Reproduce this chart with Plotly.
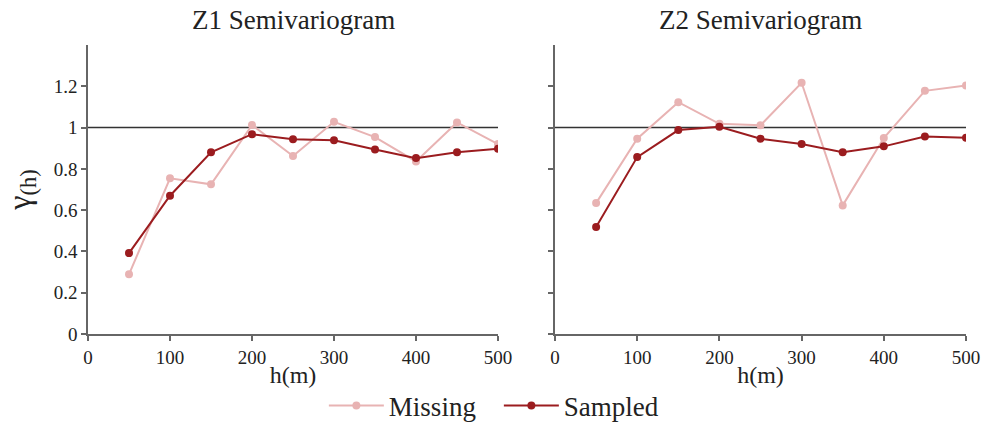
import plotly.graph_objects as go
from plotly.subplots import make_subplots

# Lag distances (m)
lags = [50, 100, 150, 200, 250, 300, 350, 400, 450, 500]

# Experimental semivariogram values for Z1
z1_missing = [0.289, 0.754, 0.725, 1.012, 0.862, 1.028, 0.954, 0.836, 1.025, 0.920]
z1_sampled = [0.392, 0.670, 0.880, 0.968, 0.944, 0.939, 0.894, 0.852, 0.880, 0.897]

# Experimental semivariogram values for Z2
z2_missing = [0.634, 0.946, 1.123, 1.018, 1.011, 1.217, 0.623, 0.949, 1.178, 1.204]
z2_sampled = [0.518, 0.857, 0.988, 1.004, 0.946, 0.920, 0.880, 0.909, 0.957, 0.951]

panel_titles = ["Z1 Semivariogram", "Z2 Semivariogram"]
sill = 1.0

MISSING_COLOR = "#E8B3B3"
SAMPLED_COLOR = "#9B1C1F"
AXIS_COLOR = "#666666"
TEXT_COLOR = "#222222"
FONT = "Times New Roman, Liberation Serif, serif"

fig = make_subplots(rows=1, cols=2, shared_yaxes=False)

for col, (miss, samp) in enumerate([(z1_missing, z1_sampled), (z2_missing, z2_sampled)], start=1):
    fig.add_trace(
        go.Scatter(
            x=lags, y=miss, mode="lines+markers", name="Missing",
            line=dict(color=MISSING_COLOR, width=2),
            marker=dict(color=MISSING_COLOR, size=8),
            showlegend=(col == 1), legendrank=1,
        ),
        row=1, col=col,
    )
    fig.add_trace(
        go.Scatter(
            x=lags, y=samp, mode="lines+markers", name="Sampled",
            line=dict(color=SAMPLED_COLOR, width=2),
            marker=dict(color=SAMPLED_COLOR, size=8),
            showlegend=(col == 1), legendrank=2,
        ),
        row=1, col=col,
    )
    xref = "x" if col == 1 else "x2"
    yref = "y" if col == 1 else "y2"
    fig.add_shape(
        type="line", xref=xref, yref=yref, x0=0, x1=500, y0=sill, y1=sill,
        line=dict(color="#333333", width=1.5), layer="below",
    )

axis_common = dict(
    showline=True, linecolor=AXIS_COLOR, linewidth=1.5,
    ticks="outside", ticklen=5, tickcolor=AXIS_COLOR, tickwidth=1.5,
    showgrid=False, zeroline=False, automargin=False,
    tickfont=dict(family=FONT, size=19, color=TEXT_COLOR),
)

y_dom = [89 / 423, 378 / 423]
fig.update_xaxes(range=[0, 500], tickvals=[0, 100, 200, 300, 400, 500], **axis_common)
fig.update_yaxes(range=[0, 1.40], tickvals=[0, 0.2, 0.4, 0.6, 0.8, 1.0, 1.2], **axis_common)

xtitle = dict(text="h(m)", font=dict(family=FONT, size=24, color=TEXT_COLOR), standoff=0)

fig.update_layout(
    xaxis=dict(domain=[88 / 982, 498 / 982], title=xtitle),
    xaxis2=dict(domain=[555 / 982, 966 / 982], title=xtitle),
    yaxis=dict(domain=y_dom,
               title=dict(text="γ<sub>(h)</sub>", font=dict(family=FONT, size=32, color=TEXT_COLOR), standoff=14)),
    yaxis2=dict(domain=y_dom, showticklabels=False),
    width=982, height=423,
    margin=dict(l=0, r=0, t=0, b=0, autoexpand=False),
    plot_bgcolor="white", paper_bgcolor="white",
    font=dict(family=FONT, color=TEXT_COLOR),
    legend=dict(
        orientation="h", x=0.508, xanchor="center", y=17 / 423, yanchor="middle",
        yref="paper", font=dict(family=FONT, size=27, color=TEXT_COLOR),
        itemwidth=55, entrywidth=105, entrywidthmode="pixels",
        traceorder="normal", bgcolor="rgba(0,0,0,0)",
    ),
    annotations=[
        dict(text=panel_titles[0], x=293 / 982, y=1 - 20 / 423, xref="paper", yref="paper",
             xanchor="center", yanchor="middle", showarrow=False,
             font=dict(family=FONT, size=27, color=TEXT_COLOR)),
        dict(text=panel_titles[1], x=760 / 982, y=1 - 20 / 423, xref="paper", yref="paper",
             xanchor="center", yanchor="middle", showarrow=False,
             font=dict(family=FONT, size=27, color=TEXT_COLOR)),
    ],
)

fig.write_html("out.html")
